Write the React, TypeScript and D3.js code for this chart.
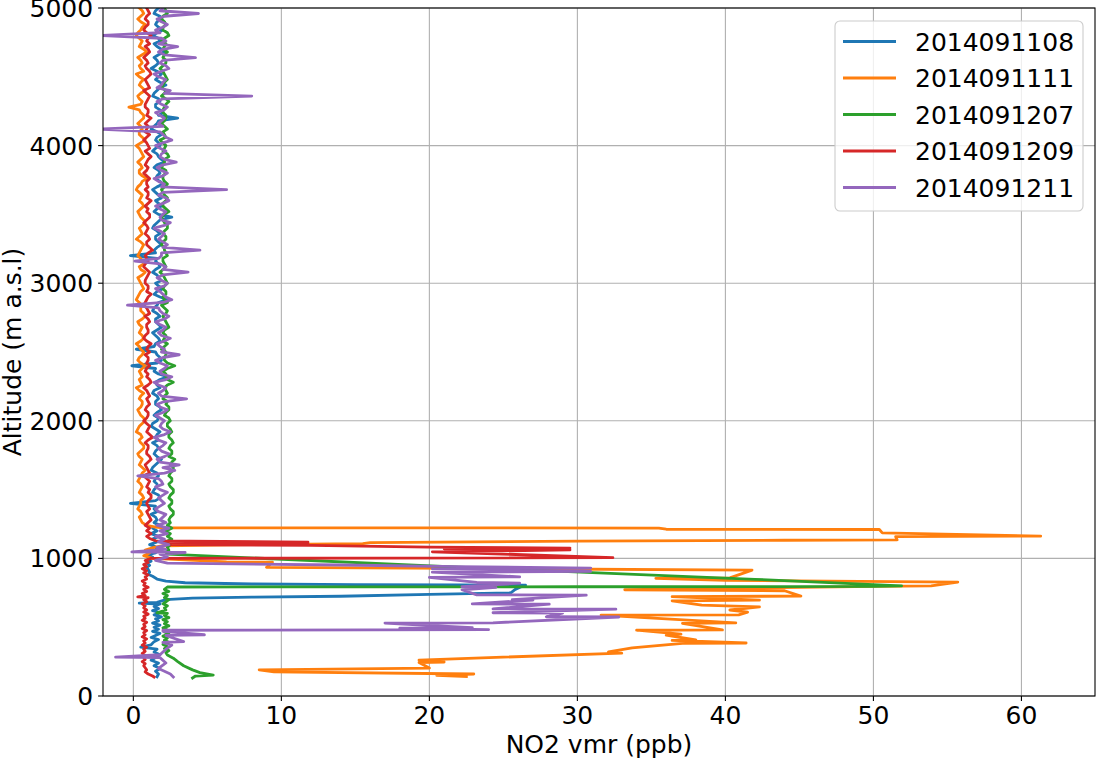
import React from 'react';
import * as d3 from 'd3';

const seriesNames = ['2014091108', '2014091111', '2014091207', '2014091209', '2014091211'];
const seriesColors = ['#1f77b4', '#ff7f0e', '#2ca02c', '#d62728', '#9467bd'];
const xTicks = [0, 10, 20, 30, 40, 50, 60];
const yTicks = [0, 1000, 2000, 3000, 4000, 5000];

// altitude grid of the upper (free troposphere) part of each profile, m a.s.l. (5000 ... 1280)
const upperAltitudes = d3.range(5000, 1279, -20);

// NO2 vmr (ppb) read on the upper grid
const blueUpper = [
  1.7,1.5, 1.4,1.8, 1.9,1.6, 1.5,1.7, 2.0,1.6, 1.3,1.7, 1.8,1.4, 1.6,1.9, 2.1,1.7, 1.4,1.6,
  1.7,1.5, 1.2,1.6, 1.9,1.7, 1.5,1.8, 2.2,1.8, 1.6,1.4, 1.3,1.7, 1.8,1.5, 1.5,1.8, 2.0,1.7,
  3.0,1.7, 1.6,1.4, 1.2,1.6, 1.9,1.6, 1.5,1.7, 1.8,1.5, 1.3,1.6, 1.7,1.9, 2.1,1.6, 1.4,1.7,
  1.8,1.6, 1.5,1.8, 2.0,1.6, 1.3,1.5, 1.7,1.9, 1.5,1.7, 1.9,1.6, 1.4,1.7, 2.6,1.8, 1.6,1.4,
  1.3,1.6, 1.8,1.5, 1.5,1.7, 1.9,1.6, 1.4,1.5, -0.2,1.6, 1.5,1.7, 1.8,1.5, 1.3,1.6, 1.7,1.9,
  1.5,1.7, 2.0,1.6, 1.4,1.8, 2.3,1.7, 1.6,1.4, 1.3,1.6, 1.8,1.5, 1.5,1.7, 1.9,1.6, 1.3,1.5,
  1.7,1.8, 1.5,1.4, 0.2,1.5, 1.6,1.8, 1.9,1.6, -0.1,1.5, 1.4,1.7, 2.3,1.8, 1.5,1.6, 1.8,1.4,
  1.3,1.6, 1.7,1.5, 1.5,1.8, 1.9,1.6, 1.4,1.7, 1.6,1.3, 1.2,1.5, 1.8,1.6, 1.5,1.7, 1.3,1.6,
  1.7,1.5, 1.4,1.6, 1.9,1.7, 1.5,1.3, 1.2,1.6, 1.7,1.5, 1.4,1.6, 1.6,1.4, 1.3,1.7, 1.8,1.5,
  -0.2,1.5, 1.4,1.6, 1.2,1.5, 1.6,
];
const orangeUpper = [
  0.4,0.6, 0.7,0.5, 0.3,0.5, 0.8,0.6, 0.5,0.3, 0.2,0.4, 0.6,0.5, 0.4,0.7, 0.9,0.6, 0.3,0.5,
  0.6,0.4, 0.5,0.7, 0.2,0.4, 0.7,0.5, 0.4,0.6, 0.8,0.5, 0.3,0.4, 0.6,0.5, -0.3,0.4, 0.5,0.7,
  0.7,0.5, 0.3,0.5, 0.6,0.4, 0.4,0.6, 0.8,0.5, 0.2,0.4, 0.5,0.6, 0.7,0.5, 0.3,0.5, 0.6,0.4,
  0.4,0.6, 0.9,0.6, 0.5,0.3, 0.2,0.4, 0.6,0.5, 0.4,0.6, 0.7,0.5, 0.3,0.4, 0.5,0.7, 0.8,0.6,
  0.4,0.5, 0.6,0.4, 0.2,0.5, 0.7,0.6, 0.5,0.4, 0.3,0.5, 0.6,0.7, 0.4,0.5, 0.8,0.6, 0.3,0.4,
  0.5,0.6, 0.7,0.5, 0.4,0.3, 0.2,0.4, 0.6,0.5, 0.5,0.7, 0.8,0.6, 0.3,0.4, 0.6,0.5, 0.4,0.6,
  0.7,0.5, 0.2,0.4, 0.5,0.7, 0.6,0.4, 0.3,0.5, 0.8,0.6, 0.4,0.5, 0.6,0.4, 0.5,0.6, 0.2,0.4,
  0.7,0.5, 0.4,0.6, 0.6,0.5, 0.3,0.4, 0.5,0.7, 0.8,0.6, 0.4,0.3, 0.2,0.5, 0.6,0.4, 0.5,0.7,
  0.7,0.5, 0.3,0.4, 0.6,0.5, 0.4,0.6, 0.8,0.6, 0.5,0.4, 0.3,0.5, 0.6,0.5, 0.4,0.6, 0.7,0.5,
  0.5,0.4, 0.3,0.5, 0.6,0.4, 0.5,
];
const greenUpper = [
  2.1,2.2, 2.3,2.0, 1.9,2.1, 2.2,2.0, 2.0,2.3, 2.4,2.1, 1.9,2.2, 2.1,2.0, 2.3,2.1, 2.0,2.2,
  2.2,2.0, 1.8,2.0, 2.1,2.2, 2.3,2.1, 2.0,1.9, 2.2,2.1, 1.9,2.2, 2.4,2.2, 2.1,2.0, 2.0,2.2,
  2.2,2.1, 1.9,2.1, 2.3,2.0, 2.1,2.2, 1.8,2.0, 2.2,2.1, 2.0,2.3, 2.4,2.1, 2.1,2.0, 1.9,2.2,
  2.2,2.0, 2.0,2.1, 2.3,2.1, 1.9,2.0, 2.1,2.3, 2.2,2.0, 2.0,2.2, 2.4,2.1, 1.9,2.0, 2.1,2.3,
  2.3,2.1, 2.0,2.2, 2.2,2.0, 1.9,2.1, 2.1,2.2, 2.3,2.0, 2.0,2.1, 2.2,2.0, 1.8,2.0, 2.1,2.2,
  2.3,2.1, 2.0,2.2, 2.2,2.0, 2.1,2.3, 1.9,2.1, 2.3,2.2, 2.0,2.1, 2.2,2.3, 2.4,2.1, 2.0,2.2,
  2.1,2.0, 2.3,2.1, 1.9,2.2, 2.2,2.1, 2.1,2.3, 2.8,2.3, 2.0,2.2, 2.2,2.3, 2.7,2.3, 2.1,2.2,
  2.3,2.1, 2.0,2.3, 2.2,2.4, 2.4,2.2, 2.1,2.4, 2.5,2.3, 2.3,2.5, 2.6,2.4, 2.4,2.6, 2.7,2.5,
  2.4,2.6, 2.6,2.4, 2.8,2.6, 2.5,2.7, 2.7,2.5, 2.4,2.6, 2.6,2.4, 2.5,2.7, 2.7,2.5, 2.4,2.6,
  2.6,2.4, 2.5,2.7, 2.7,2.5, 2.4,
];
const redUpper = [
  0.9,1.0, 1.1,0.9, 0.8,1.0, 1.0,0.8, 0.7,0.9, 1.2,1.0, 0.9,1.1, 0.8,1.0, 1.1,0.9, 0.7,0.9,
  1.0,0.8, 0.9,1.1, 1.2,1.0, 0.8,0.9, 1.0,1.1, 0.7,0.9, 1.1,1.0, 0.9,0.8, 0.8,1.0, 1.0,0.9,
  1.2,1.0, 0.8,1.0, 0.9,0.8, 1.1,0.9, 0.7,0.9, 1.0,1.1, 0.8,1.0, 1.2,1.0, 0.9,0.8, 1.0,0.9,
  0.7,0.9, 1.1,0.9, 0.9,1.0, 0.8,1.0, 1.0,0.9, 1.2,1.0, 0.8,1.0, 0.9,1.1, 1.1,0.9, 0.7,0.9,
  1.0,0.9, 0.8,1.0, 1.1,0.9, 0.9,1.1, 1.3,1.0, 0.8,0.9, 1.0,0.8, 0.7,0.9, 1.1,1.0, 0.9,0.8,
  0.8,1.0, 1.0,0.9, 1.2,1.0, 0.9,0.8, 0.7,0.9, 1.0,1.1, 0.8,1.0, 1.1,0.9, 0.9,1.0, 1.0,0.8,
  0.7,0.9, 1.2,1.0, 0.9,1.1, 0.8,1.0, 1.0,0.9, 1.1,0.9, 0.8,1.0, 0.9,1.1, 1.2,1.0, 0.7,0.9,
  1.0,1.1, 0.9,1.0, 1.1,0.9, 0.8,1.0, 1.0,0.9, 0.7,0.9, 1.1,1.0, 0.9,1.1, 1.3,1.0, 0.8,1.0,
  1.0,0.9, 0.9,1.1, 1.2,1.0, 0.8,0.9, 1.0,1.1, 0.7,0.9, 1.1,1.0, 0.9,1.1, 1.0,1.2, 1.2,1.0,
  0.9,1.0, 1.1,0.9, 1.0,1.1, 1.2,
];
const purpleUpper = [
  2.0,1.8, 4.4,2.1, 1.6,1.9, 2.3,2.0, 1.5,1.8, -2.3,1.9, 2.2,1.7, 3.0,2.0, 1.7,2.1, 4.2,2.0,
  1.8,2.2, 2.4,1.9, 1.4,1.7, 2.2,2.0, 1.9,1.6, 2.5,2.1, 8.0,2.0, 1.6,1.9, 2.3,2.1, 1.5,1.8,
  2.1,1.9, 1.7,2.0, -2.3,1.8, 2.0,2.2, 2.6,2.0, 1.5,1.8, 2.2,1.9, 1.8,2.1, 2.9,2.0, 1.6,1.9,
  2.3,2.0, 1.4,1.7, 2.1,1.9, 6.3,2.0, 1.7,2.2, 2.4,2.0, 1.5,1.8, 2.2,2.0, 1.8,1.9, 2.5,2.1,
  1.4,1.8, 2.1,1.9, 1.7,2.0, 2.3,2.0, 4.5,1.9, 1.9,1.7, 0.1,1.8, 2.2,2.0, 3.7,2.0, 1.6,1.9,
  2.3,2.1, 1.5,1.8, 2.0,2.2, 2.6,2.0, -0.4,1.7, 1.8,2.0, 2.4,2.1, 1.5,1.8, 2.2,2.0, 1.7,1.9,
  2.5,2.1, 1.6,1.8, 2.1,1.9, 3.1,2.0, 1.5,1.8, 2.3,2.1, 1.8,1.9, 2.6,2.2, 1.4,1.7, 2.2,2.0,
  1.7,1.9, 3.6,2.1, 1.6,1.8, 2.3,2.0, 1.5,1.8, 2.1,1.9, 1.8,2.0, 2.5,2.1, 1.4,1.7, 2.2,2.0,
  1.7,1.9, 2.4,2.1, 1.6,1.8, 3.1,2.0, 2.8,2.1, 0.3,1.7, 1.9,2.0, 1.5,1.8, 2.3,2.0, 1.7,1.9,
  2.1,1.8, 1.5,1.7, 2.2,2.0, 1.8,
];

// boundary-layer parts of the profiles: [NO2 ppb, altitude m]
const blueLower: [number, number][] = [
  [1.4, 1260], [1.8, 1240], [1.3, 1220], [1.6, 1200], [1.2, 1180], [1.7, 1160], [1.3, 1140],
  [1.6, 1120], [1.1, 1100], [1.5, 1085], [1.6, 1070], [1.2, 1055], [1.5, 1040], [0.9, 1025],
  [1.3, 1010], [1.0, 995], [1.2, 980], [0.9, 965], [1.1, 950], [0.9, 935], [1.0, 920],
  [1.1, 900], [1.0, 885], [1.3, 870], [1.6, 850], [2.2, 835], [3.5, 823], [8, 814], [15, 810],
  [22, 807], [26.5, 805], [26.2, 795], [25.8, 775], [25.5, 750], [20, 738], [14, 725],
  [8, 719], [4, 712], [2.2, 700], [1.6, 680], [0.4, 675], [1.8, 668], [1.4, 650], [1.7, 635],
  [1.3, 620], [1.8, 605], [1.4, 590], [1.9, 575], [1.5, 560], [1.7, 545], [1.3, 530],
  [1.8, 515], [1.4, 500], [1.7, 485], [1.3, 470], [1.8, 455], [1.5, 440], [1.2, 425],
  [1.7, 410], [1.4, 395], [1.2, 372], [0.5, 355], [1.6, 340], [1.4, 320], [1.8, 300],
  [1.5, 280], [1.2, 260], [1.7, 240], [1.4, 220], [1.8, 200], [1.5, 180], [1.7, 160], [1.6, 140],
];
const orangeLower: [number, number][] = [
  [0.6, 1260], [0.9, 1240], [1.5, 1228], [2, 1222], [20, 1222], [35.5, 1220], [36, 1212],
  [50.4, 1210], [50.6, 1185], [61.3, 1162], [51.5, 1158], [51.6, 1135], [44, 1132], [30, 1125],
  [16, 1115], [15.5, 1108], [8, 1100], [2, 1092], [1.4, 1080], [0.8, 1060], [1.1, 1040],
  [0.7, 1020], [1.3, 1000], [6.3, 975], [9.4, 972], [9.0, 935], [25, 925], [41.8, 915],
  [40.3, 858], [35.3, 855], [40, 840], [55.7, 828], [53.9, 800], [50, 796], [33.2, 772],
  [44, 765], [45.1, 726], [36.4, 722], [42.3, 697], [36.4, 692], [38.4, 660], [42.3, 648],
  [40.3, 625], [41.5, 610], [40.9, 590], [31.6, 588], [40.7, 532], [37.1, 528], [39.8, 480],
  [34, 478], [37, 450], [36, 443], [38, 407], [36.4, 404], [41.4, 385], [37.1, 382],
  [33.7, 349], [32.1, 320], [33, 312], [19.3, 261], [21, 247], [19.3, 243], [20, 203],
  [8.5, 190], [9.5, 175], [23, 160], [20.5, 150], [22.5, 142],
];
const greenLower: [number, number][] = [
  [2.5, 1260], [2.3, 1240], [2.6, 1220], [2.2, 1200], [2.5, 1180], [2.3, 1160], [2.6, 1140],
  [2.2, 1120], [2.5, 1100], [2.3, 1080], [2.4, 1060], [2.2, 1045], [2.3, 1031], [22, 937],
  [42, 848], [51.9, 800], [50, 796], [30, 794], [2.3, 792], [2.1, 775], [2.4, 760], [2.0, 745],
  [2.3, 730], [2.1, 715], [2.4, 700], [2.2, 685], [2.0, 670], [2.3, 655], [2.1, 640],
  [2.2, 625], [1.6, 605], [2.3, 600], [2.1, 585], [2.4, 570], [2.0, 555], [2.3, 540],
  [2.1, 525], [2.4, 510], [2.0, 495], [2.3, 480], [2.1, 465], [2.4, 450], [2.0, 435],
  [2.3, 420], [2.1, 405], [2.4, 390], [2.0, 375], [2.3, 360], [2.1, 345], [2.4, 330],
  [2.2, 315], [2.3, 298], [2.7, 275], [3.0, 250], [3.4, 220], [4.0, 190], [4.5, 170],
  [5.4, 152], [4.2, 145], [4.0, 131],
];
const redLower: [number, number][] = [
  [1.0, 1260], [0.8, 1240], [1.1, 1220], [0.9, 1200], [1.2, 1180], [0.9, 1160], [1.1, 1145],
  [1.5, 1128], [11.8, 1118], [2.0, 1113], [11.8, 1106], [2.5, 1100], [12, 1095], [20, 1082],
  [29.5, 1075], [21, 1070], [29.5, 1062], [20.2, 1048], [32.4, 1005], [1.2, 1000], [0.8, 985],
  [1.0, 970], [0.7, 955], [0.9, 940], [0.6, 925], [0.9, 910], [0.7, 895], [1.0, 880],
  [0.8, 865], [0.9, 850], [0.6, 835], [0.8, 820], [0.7, 805], [1.0, 790], [0.7, 775],
  [0.9, 760], [0.6, 745], [0.8, 730], [0.3, 720], [1.0, 715], [0.7, 700], [0.9, 685],
  [0.6, 670], [0.8, 655], [0.7, 640], [0.9, 625], [0.7, 610], [1.0, 595], [0.7, 580],
  [0.8, 565], [0.6, 550], [0.9, 535], [0.7, 520], [0.8, 505], [0.6, 490], [0.9, 475],
  [0.7, 460], [0.8, 445], [0.6, 430], [0.9, 415], [0.7, 400], [0.8, 385], [0.6, 370],
  [0.9, 355], [0.7, 340], [0.8, 325], [0.6, 310], [0.8, 295], [0.7, 280], [0.8, 265],
  [0.6, 250], [0.8, 235], [0.7, 220], [0.8, 205], [0.9, 190], [0.8, 175], [1.0, 160],
  [1.3, 145], [1.4, 138],
];
const purpleLower: [number, number][] = [
  [2.2, 1260], [1.6, 1240], [2.4, 1220], [1.8, 1200], [2.3, 1180], [1.5, 1160], [2.1, 1140],
  [1.7, 1120], [2.4, 1100], [1.6, 1080], [2.2, 1065], [-0.1, 1048], [3.5, 1043], [1.8, 1030],
  [2.3, 1010], [1.5, 985], [2.3, 965], [14, 952], [22, 940], [30.9, 930], [20.2, 925],
  [28, 915], [30.9, 905], [20.2, 900], [26.1, 866], [20, 862], [23.2, 825], [26.1, 820],
  [22.2, 795], [24.5, 790], [22.2, 772], [23.2, 735], [30.6, 733], [25.6, 700], [27, 697],
  [22.9, 670], [28.1, 667], [24.3, 633], [32.6, 631], [24.3, 605], [29, 603], [27.9, 576],
  [32.8, 574], [24.3, 532], [17, 530], [22.9, 496], [18, 493], [24, 482], [2.0, 478],
  [2.0, 470], [4.8, 445], [2.2, 440], [3.4, 395], [2.0, 390], [2.6, 370], [2.2, 340],
  [1.8, 300], [-1.2, 283], [1.8, 279], [2.2, 240], [1.7, 200], [2.5, 160], [2.7, 138],
];

const uppers = [blueUpper, orangeUpper, greenUpper, redUpper, purpleUpper];
const lowers = [blueLower, orangeLower, greenLower, redLower, purpleLower];

const FONT = 'DejaVu Sans';
const W = 1097;
const H = 759;
const L = 103;
const R = 1095;
const T = 8;
const B = 696;

export default function App() {
  const x = d3.scaleLinear().domain([-2.05, 64.97]).range([L, R]);
  const y = d3.scaleLinear().domain([0, 5000]).range([B, T]);
  const line = d3
    .line<[number, number]>()
    .x((d) => x(d[0]))
    .y((d) => y(d[1]));

  const profiles = uppers.map((u, k) => {
    const pts: [number, number][] = u.map((v, i) => [v, upperAltitudes[i]] as [number, number]);
    return pts.concat(lowers[k]);
  });

  const legendX = 835;
  const legendY = 21;
  const legendW = 248;
  const legendH = 190;
  const rowGap = 36.5;

  return (
    <div style={{ position: 'absolute', left: 0, top: 0, width: W, height: H, background: '#fff' }}>
      <svg width={W} height={H} style={{ display: 'block' }} fontFamily={FONT}>
        <rect x={0} y={0} width={W} height={H} fill="#fff" />
        <defs>
          <clipPath id="plotclip">
            <rect x={L} y={T} width={R - L} height={B - T} />
          </clipPath>
        </defs>
        {/* grid */}
        <g stroke="#b0b0b0" strokeWidth={1.1}>
          {xTicks.map((t) => (
            <line key={'gx' + t} x1={x(t)} x2={x(t)} y1={T} y2={B} />
          ))}
          {yTicks.map((t) => (
            <line key={'gy' + t} x1={L} x2={R} y1={y(t)} y2={y(t)} />
          ))}
        </g>
        {/* profiles */}
        <g clipPath="url(#plotclip)" fill="none" strokeWidth={2.8} strokeLinejoin="round" strokeLinecap="square">
          {profiles.map((p, k) => (
            <path key={seriesNames[k]} d={line(p) || ''} stroke={seriesColors[k]} />
          ))}
        </g>
        {/* spines */}
        <rect x={L} y={T} width={R - L} height={B - T} fill="none" stroke="#000" strokeWidth={1.1} />
        {/* x ticks */}
        <g>
          {xTicks.map((t) => (
            <g key={'xt' + t}>
              <line x1={x(t)} x2={x(t)} y1={B} y2={B + 4.9} stroke="#000" strokeWidth={1.1} />
              <text x={x(t)} y={B + 28} fontSize={25} textAnchor="middle" fill="#000">
                {t}
              </text>
            </g>
          ))}
        </g>
        {/* y ticks */}
        <g>
          {yTicks.map((t) => (
            <g key={'yt' + t}>
              <line x1={L - 4.9} x2={L} y1={y(t)} y2={y(t)} stroke="#000" strokeWidth={1.1} />
              <text x={L - 9.8} y={y(t) + 9} fontSize={25} textAnchor="end" fill="#000">
                {t}
              </text>
            </g>
          ))}
        </g>
        {/* axis labels */}
        <text x={(L + R) / 2} y={753} fontSize={25} textAnchor="middle" fill="#000">
          NO2 vmr (ppb)
        </text>
        <text
          transform={`translate(21, ${(T + B) / 2}) rotate(-90)`}
          fontSize={25}
          textAnchor="middle"
          fill="#000"
        >
          Altitude (m a.s.l)
        </text>
        {/* legend */}
        <g>
          <rect
            x={legendX}
            y={legendY}
            width={legendW}
            height={legendH}
            rx={5}
            ry={5}
            fill="#fff"
            fillOpacity={0.8}
            stroke="#cccccc"
            strokeWidth={1.1}
          />
          {seriesNames.map((n, k) => {
            const ly = 41.5 + k * rowGap;
            return (
              <g key={'lg' + n}>
                <line x1={843} x2={896} y1={ly} y2={ly} stroke={seriesColors[k]} strokeWidth={2.8} />
                <text x={915} y={ly + 9} fontSize={25} fill="#000">
                  {n}
                </text>
              </g>
            );
          })}
        </g>
      </svg>
    </div>
  );
}
